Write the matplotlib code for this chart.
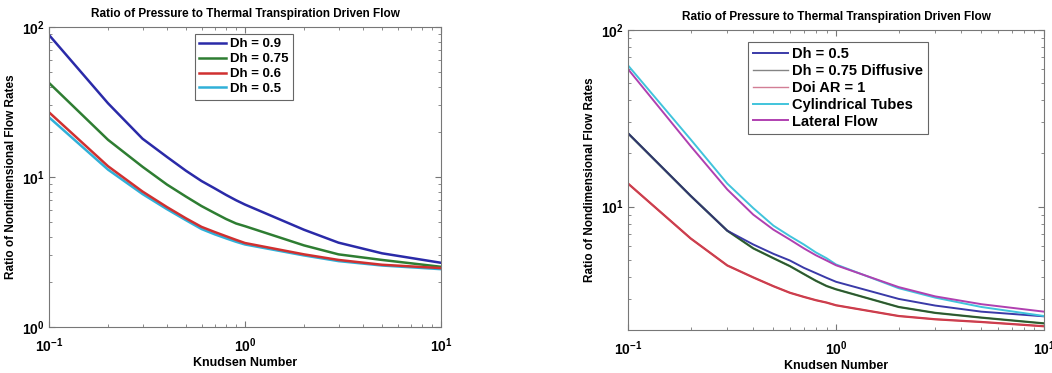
import math
import matplotlib
matplotlib.use("Agg")
import matplotlib.pyplot as plt
from matplotlib.ticker import LogLocator, FuncFormatter, NullFormatter

plt.rcParams['font.family'] = ['Liberation Sans', 'DejaVu Sans']
plt.rcParams['font.weight'] = 'bold'
plt.rcParams['mathtext.fontset'] = 'custom'
plt.rcParams['mathtext.rm'] = 'Liberation Sans:bold'
plt.rcParams['mathtext.bf'] = 'Liberation Sans:bold'

# Knudsen numbers where the ratios were evaluated
kn = [0.1, 0.2, 0.3, 0.4, 0.5, 0.6, 0.7, 0.8, 0.9, 1, 2, 3, 5, 10]

# left panel: hydraulic diameter sweep
dh_09 = [88.5, 31.0, 18.0, 13.6, 11.0, 9.4, 8.4, 7.6, 7.0, 6.55, 4.45, 3.65, 3.1, 2.68]
dh_075 = [42.4, 17.7, 11.7, 8.9, 7.4, 6.4, 5.75, 5.25, 4.9, 4.7, 3.5, 3.05, 2.8, 2.52]
dh_06 = [27.0, 11.8, 8.0, 6.3, 5.3, 4.65, 4.3, 4.03, 3.81, 3.63, 3.05, 2.8, 2.6, 2.47]
dh_05 = [25.0, 11.2, 7.7, 6.1, 5.15, 4.5, 4.15, 3.9, 3.7, 3.55, 3.0, 2.75, 2.57, 2.43]

# right panel: comparison with other geometries
r_dh_05 = [26.0, 11.5, 7.3, 6.1, 5.4, 4.95, 4.5, 4.2, 3.95, 3.75, 3.0, 2.75, 2.54, 2.39]
r_diffusive = [26.0, 11.5, 7.3, 5.8, 5.1, 4.6, 4.15, 3.8, 3.55, 3.4, 2.7, 2.5, 2.35, 2.18]
r_doi = [13.5, 6.6, 4.64, 3.97, 3.54, 3.25, 3.08, 2.95, 2.86, 2.76, 2.4, 2.3, 2.22, 2.1]
r_cyl = [63.0, 24.0, 13.5, 9.8, 7.8, 6.8, 6.1, 5.5, 5.1, 4.7, 3.45, 3.05, 2.7, 2.4]
r_lateral = [60.0, 22.0, 12.5, 9.0, 7.4, 6.5, 5.8, 5.3, 4.95, 4.65, 3.5, 3.1, 2.8, 2.54]

title = 'Ratio of Pressure to Thermal Transpiration Driven Flow'


def pow10(v, pos):
    e = int(round(math.log10(v)))
    return r'$10^{%d}$' % e


def style(ax, ylo):
    ax.set_xscale('log')
    ax.set_yscale('log')
    ax.set_xlim(0.1, 10)
    ax.set_ylim(ylo, 100)
    ax.xaxis.set_major_locator(LogLocator(base=10, numticks=5))
    ax.yaxis.set_major_locator(LogLocator(base=10, numticks=5))
    ax.xaxis.set_major_formatter(FuncFormatter(pow10))
    ax.yaxis.set_major_formatter(FuncFormatter(pow10))
    ax.xaxis.set_minor_formatter(NullFormatter())
    ax.yaxis.set_minor_formatter(NullFormatter())
    ax.tick_params(which='both', direction='in', top=True, right=True,
                   colors='#777777', labelcolor='black', labelsize=10)
    ax.tick_params(which='major', length=4)
    ax.tick_params(axis='x', which='major', pad=7)
    ax.tick_params(axis='y', which='major', pad=3)
    ax.tick_params(which='minor', length=2)
    for s in ax.spines.values():
        s.set_color('#777777')
        s.set_linewidth(0.8)
    ax.set_title(title, fontsize=8.5, fontweight='bold', pad=7)
    ax.set_xlabel('Knudsen Number', fontsize=9, fontweight='bold', labelpad=1)
    ax.set_ylabel('Ratio of Nondimensional Flow Rates', fontsize=8.5,
                  fontweight='bold', labelpad=4)


def boxed_legend(ax, anchor, size, hlen):
    leg = ax.legend(loc='upper left', bbox_to_anchor=anchor, fontsize=size,
                    handlelength=hlen, labelspacing=0.2, borderpad=0.35,
                    handletextpad=0.3, fancybox=False, framealpha=1)
    leg.get_frame().set_edgecolor('#666666')
    leg.get_frame().set_linewidth(0.8)


fig = plt.figure(figsize=(10.52, 3.73), dpi=100)

ax1 = fig.add_axes([0.0466, 0.1233, 0.3726, 0.8043])
ax1.plot(kn, dh_09, color='#2a2aa8', lw=1.8, label='Dh = 0.9')
ax1.plot(kn, dh_075, color='#2e7d32', lw=1.8, label='Dh = 0.75')
ax1.plot(kn, dh_05, color='#30b0d8', lw=1.8, label='Dh = 0.5')
ax1.plot(kn, dh_06, color='#d03030', lw=1.8, label='Dh = 0.6')
# keep the legend order 0.9, 0.75, 0.6, 0.5 while red is drawn over cyan
h, l = ax1.get_legend_handles_labels()
order = [0, 1, 3, 2]
style(ax1, 1)
leg1 = ax1.legend([h[i] for i in order], [l[i] for i in order],
                  loc='upper left', bbox_to_anchor=(0.355, 1.0), fontsize=9.5,
                  handlelength=2.0, labelspacing=0.2, borderpad=0.35,
                  handletextpad=0.3, fancybox=False, framealpha=1)
leg1.get_frame().set_edgecolor('#666666')
leg1.get_frame().set_linewidth(0.8)

ax2 = fig.add_axes([0.597, 0.1153, 0.3954, 0.8043])
ax2.plot(kn, r_diffusive, color='#2e7d32', lw=1.6)
ax2.plot(kn, r_doi, color='#d83030', lw=1.6)
ax2.plot(kn, r_dh_05, color='#3a3aa8', lw=1.4, label='Dh = 0.5')
ax2.plot(kn, r_diffusive, color='#333333', lw=1.0, alpha=0.6,
         label='Dh = 0.75 Diffusive')
ax2.plot(kn, r_doi, color='#c04868', lw=1.0, alpha=0.7, label='Doi AR = 1')
ax2.plot(kn, r_cyl, color='#40c4dc', lw=1.4, label='Cylindrical Tubes')
ax2.plot(kn, r_lateral, color='#b040b0', lw=1.4, label='Lateral Flow')
style(ax2, 2)
boxed_legend(ax2, (0.27, 0.985), 10.5, 2.4)

fig.savefig('out.png', dpi=100)
